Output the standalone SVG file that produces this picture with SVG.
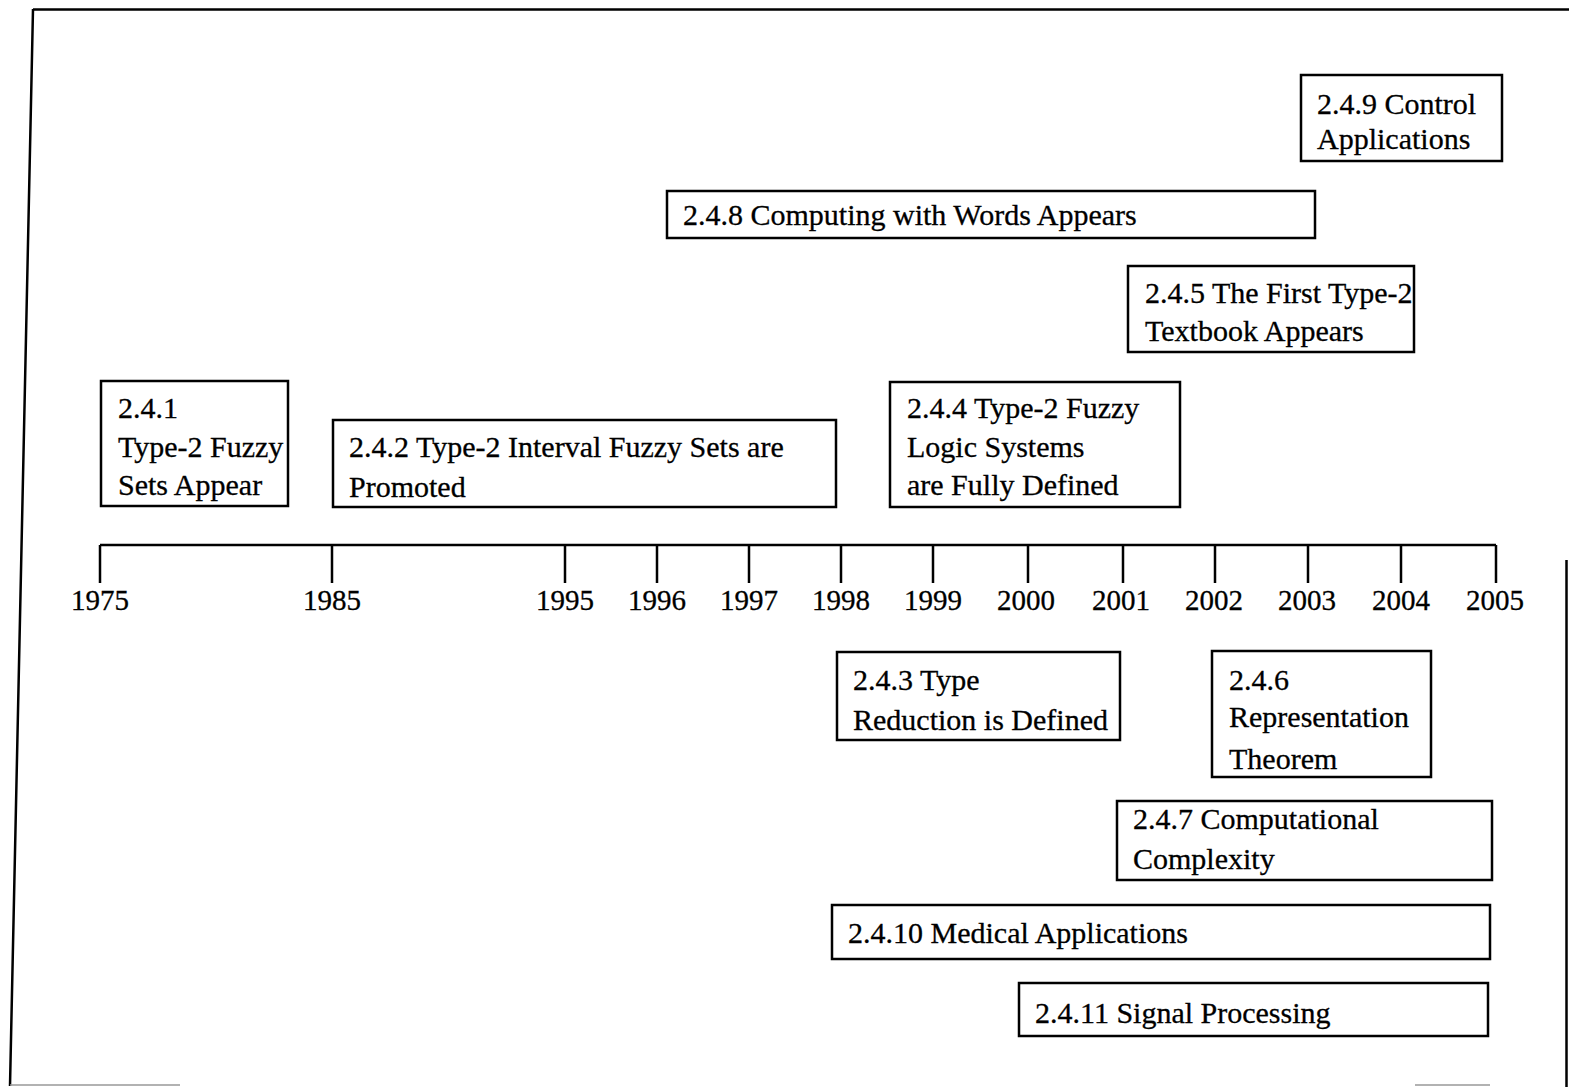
<svg xmlns="http://www.w3.org/2000/svg" width="1569" height="1087" viewBox="0 0 1569 1087">
<style>
.box{fill:#fff;stroke:#000;stroke-width:2.5}
.t{font-family:"Liberation Serif","Times New Roman",serif;font-size:30px;fill:#000;stroke:#000;stroke-width:0.3}
.y{font-family:"Liberation Serif","Times New Roman",serif;font-size:29px;fill:#000;stroke:#000;stroke-width:0.3;text-anchor:middle}
.ln{stroke:#000;stroke-width:2.5;fill:none}
</style>
<rect width="1569" height="1087" fill="#fff"/>
<g id="frame">
<path class="ln" d="M33,9.5 L1569,9.5 M33,9 L10,1086 M1566.5,560 L1566.5,1087"/>
<path d="M10,1085 L180,1085 M1415,1085 L1490,1085" stroke="#999" stroke-width="1.5"/>
</g>
<g id="connectors">
<path class="ln" d="M100,545 L1496,545"/>
<path class="ln" d="M100,545V583 M332,545V583 M565,545V583 M657,545V583 M749,545V583 M841,545V583 M933,545V583 M1028,545V583 M1123,545V583 M1215,545V583 M1308,545V583 M1401,545V583 M1496,545V583"/>
</g>
<g id="years">
<text class="y" x="100" y="610">1975</text>
<text class="y" x="332" y="610">1985</text>
<text class="y" x="565" y="610">1995</text>
<text class="y" x="657" y="610">1996</text>
<text class="y" x="749" y="610">1997</text>
<text class="y" x="841" y="610">1998</text>
<text class="y" x="933" y="610">1999</text>
<text class="y" x="1026" y="610">2000</text>
<text class="y" x="1121" y="610">2001</text>
<text class="y" x="1214" y="610">2002</text>
<text class="y" x="1307" y="610">2003</text>
<text class="y" x="1401" y="610">2004</text>
<text class="y" x="1495" y="610">2005</text>
</g>
<g id="n249"><rect class="box" x="1301" y="75" width="201" height="86"/>
<text class="t" x="1317" y="114">2.4.9 Control</text><text class="t" x="1317" y="149">Applications</text></g>
<g id="n248"><rect class="box" x="667" y="191" width="648" height="47"/>
<text class="t" x="683" y="225">2.4.8 Computing with Words Appears</text></g>
<g id="n245"><rect class="box" x="1128" y="266" width="286" height="86"/>
<text class="t" x="1145" y="303">2.4.5 The First Type-2</text><text class="t" x="1145" y="341">Textbook Appears</text></g>
<g id="n241"><rect class="box" x="101" y="381" width="187" height="125"/>
<text class="t" x="118" y="418">2.4.1</text><text class="t" x="118" y="457">Type-2 Fuzzy</text><text class="t" x="118" y="495">Sets Appear</text></g>
<g id="n242"><rect class="box" x="333" y="420" width="503" height="87"/>
<text class="t" x="349" y="457">2.4.2 Type-2 Interval Fuzzy Sets are</text><text class="t" x="349" y="497">Promoted</text></g>
<g id="n244"><rect class="box" x="890" y="382" width="290" height="125"/>
<text class="t" x="907" y="418">2.4.4 Type-2 Fuzzy</text><text class="t" x="907" y="457">Logic Systems</text><text class="t" x="907" y="495">are Fully Defined</text></g>
<g id="n243"><rect class="box" x="837" y="652" width="283" height="88"/>
<text class="t" x="853" y="690">2.4.3 Type</text><text class="t" x="853" y="730">Reduction is Defined</text></g>
<g id="n246"><rect class="box" x="1212" y="651" width="219" height="126"/>
<text class="t" x="1229" y="690">2.4.6</text><text class="t" x="1229" y="727">Representation</text><text class="t" x="1229" y="769">Theorem</text></g>
<g id="n247"><rect class="box" x="1117" y="801" width="375" height="79"/>
<text class="t" x="1133" y="829">2.4.7 Computational</text><text class="t" x="1133" y="869">Complexity</text></g>
<g id="n2410"><rect class="box" x="832" y="905" width="658" height="54"/>
<text class="t" x="848" y="943">2.4.10 Medical Applications</text></g>
<g id="n2411"><rect class="box" x="1019" y="983" width="469" height="53"/>
<text class="t" x="1035" y="1023">2.4.11 Signal Processing</text></g>
</svg>
